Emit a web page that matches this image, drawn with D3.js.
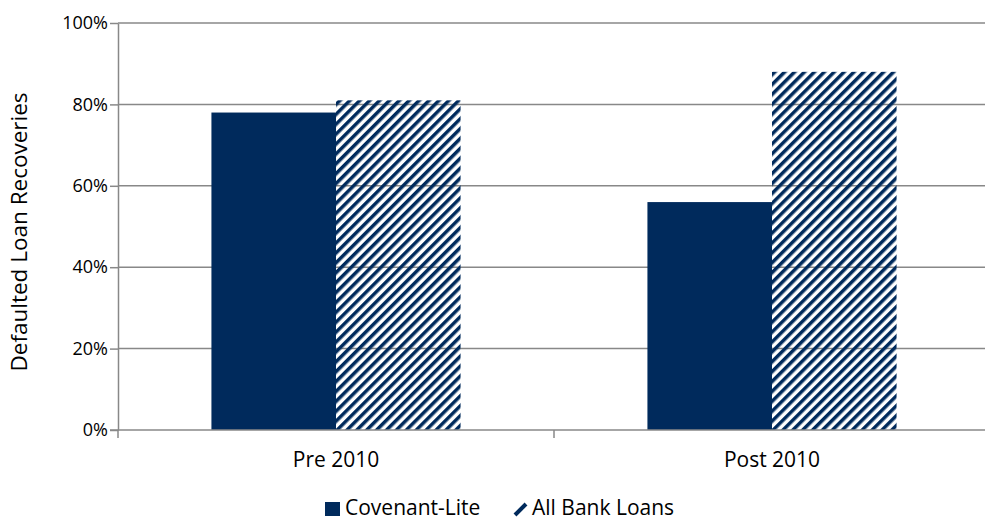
<!DOCTYPE html>
<html>
<head>
<meta charset="utf-8">
<script src="https://cdn.jsdelivr.net/npm/d3@7"></script>
<style>
  body { margin: 0; background: #fff; }
  svg { font-family: "Open Sans", sans-serif; }
</style>
</head>
<body>
<div id="chart"></div>
<script>
// Data
const periods = ["Pre 2010", "Post 2010"];
const seriesNames = ["Covenant-Lite", "All Bank Loans"];
const covLite = [78, 56];
const allBank = [81, 88];
const yTicks = [0, 20, 40, 60, 80, 100];

const navy = "#002a5c";

const margin = {top: 23, right: -5, bottom: 91, left: 118};
const width = 985 - margin.left - margin.right;
const height = 521 - margin.top - margin.bottom;

const root = d3.select("#chart")
  .append("svg")
  .attr("width", 985)
  .attr("height", 521);

// Hatch pattern for All Bank Loans
const defs = root.append("defs");
defs.append("pattern")
  .attr("id", "hatch")
  .attr("patternUnits", "userSpaceOnUse")
  .attr("width", 7)
  .attr("height", 7)
  .attr("patternTransform", "rotate(45)")
  .append("rect")
  .attr("x", 0)
  .attr("y", 0)
  .attr("width", 3.5)
  .attr("height", 7)
  .attr("fill", navy);

const svg = root.append("g")
  .attr("transform", `translate(${margin.left},${margin.top})`);

const x0 = d3.scaleBand()
  .domain(periods)
  .range([0, width]);

// Excel style gap width 75%: outer padding 0.75 step on each side
const x1 = d3.scaleBand()
  .domain(seriesNames)
  .range([0, x0.bandwidth()])
  .paddingOuter(0.75)
  .paddingInner(0);

const y = d3.scaleLinear()
  .domain([0, 100])
  .range([height, 0]);

// Gridlines
svg.append("g")
  .selectAll("line")
  .data(yTicks.filter(d => d > 0))
  .enter()
  .append("line")
  .attr("x1", 0)
  .attr("x2", width)
  .attr("y1", d => y(d))
  .attr("y2", d => y(d))
  .attr("stroke", "#888")
  .attr("stroke-width", 1.5);

// Bars
const rows = periods.map((p, i) => ({period: p, values: [covLite[i], allBank[i]]}));
svg.selectAll(".group")
  .data(rows)
  .enter()
  .append("g")
  .attr("transform", d => `translate(${x0(d.period)},0)`)
  .each(function(row) {
    d3.select(this).selectAll("rect")
      .data(row.values.map((v, j) => ({name: seriesNames[j], value: v})))
      .enter()
      .append("rect")
      .attr("x", d => x1(d.name))
      .attr("y", d => y(d.value))
      .attr("width", x1.bandwidth())
      .attr("height", d => height - y(d.value))
      .attr("fill", (d, j) => j === 0 ? navy : "url(#hatch)");
  });

// Y axis
const yAxis = svg.append("g")
  .call(d3.axisLeft(y).tickValues(yTicks).tickFormat(d => d + "%").tickSize(8).tickSizeOuter(0));
yAxis.select(".domain").attr("stroke", "#888").attr("stroke-width", 1.5);
yAxis.selectAll(".tick line").attr("stroke", "#888").attr("stroke-width", 1.5);
yAxis.selectAll("text")
  .attr("x", -10)
  .attr("font-size", 18)
  .attr("font-family", "Open Sans, sans-serif")
  .attr("fill", "#000");

// X axis
const xAxisG = svg.append("g")
  .attr("transform", `translate(0,${height})`);
xAxisG.append("line")
  .attr("x1", -8)
  .attr("x2", width)
  .attr("stroke", "#888")
  .attr("stroke-width", 1.5);
xAxisG.selectAll(".sep")
  .data([0, ...periods.map(p => x0(p) + x0.bandwidth())])
  .enter()
  .append("line")
  .attr("x1", d => d)
  .attr("x2", d => d)
  .attr("y1", 0)
  .attr("y2", 8)
  .attr("stroke", "#888")
  .attr("stroke-width", 1.5);
xAxisG.selectAll(".lbl")
  .data(periods)
  .enter()
  .append("text")
  .attr("x", d => x0(d) + x0.bandwidth() / 2)
  .attr("y", 37)
  .attr("text-anchor", "middle")
  .attr("font-size", 21)
  .text(d => d);

// Y axis title
root.append("text")
  .attr("transform", "rotate(-90)")
  .attr("x", -232)
  .attr("y", 27)
  .attr("text-anchor", "middle")
  .attr("font-size", 22.5)
  .text("Defaulted Loan Recoveries");

// Legend
const legend = root.append("g")
  .attr("transform", "translate(325,496)");
legend.append("rect")
  .attr("x", 0)
  .attr("y", 6)
  .attr("width", 15)
  .attr("height", 14)
  .attr("fill", navy);
legend.append("text")
  .attr("x", 20)
  .attr("y", 19)
  .attr("font-size", 21)
  .text(seriesNames[0]);
legend.append("line")
  .attr("x1", 190)
  .attr("y1", 19)
  .attr("x2", 201)
  .attr("y2", 8)
  .attr("stroke", navy)
  .attr("stroke-width", 4);
legend.append("text")
  .attr("x", 207)
  .attr("y", 19)
  .attr("font-size", 21)
  .text(seriesNames[1]);
</script>
</body>
</html>
